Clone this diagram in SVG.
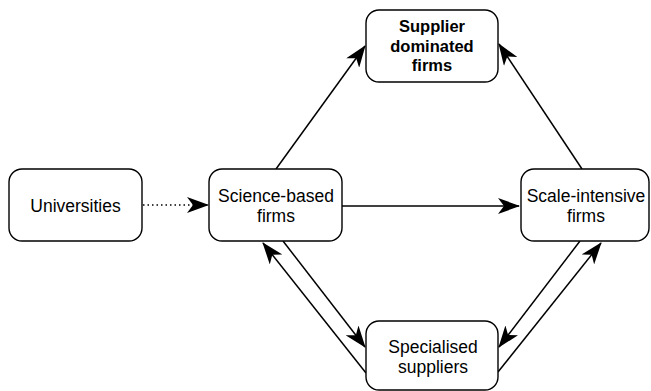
<svg xmlns="http://www.w3.org/2000/svg" width="651" height="391" viewBox="0 0 651 391">
<style>
.box{fill:#fff;stroke:#000;stroke-width:1.4}
.t{font-family:"Liberation Sans",Arial,sans-serif;font-size:17.5px;text-anchor:middle;fill:#000}
.b{font-weight:bold;font-size:16.5px}
.e{fill:none;stroke:#000;stroke-width:1.5}
.d{stroke-dasharray:1.5 3}
</style>
<defs>
<marker id="ah" markerUnits="userSpaceOnUse" viewBox="0 0 22 16" refX="21" refY="8" markerWidth="22" markerHeight="16" orient="auto">
<path d="M0,0 L22,8 L0,16 L6,8 Z" fill="#000"/>
</marker>
</defs>
<rect width="651" height="391" fill="#fff"/>
<g id="connectors">
<line class="e d" x1="143" y1="205" x2="208" y2="205" marker-end="url(#ah)"/>
<line class="e" x1="342" y1="206" x2="519" y2="206" marker-end="url(#ah)"/>
<line class="e" x1="276" y1="169" x2="365" y2="46" marker-end="url(#ah)"/>
<line class="e" x1="582" y1="169" x2="499" y2="44" marker-end="url(#ah)"/>
<line class="e" x1="283" y1="241" x2="365" y2="347" marker-end="url(#ah)"/>
<line class="e" x1="366" y1="373" x2="263" y2="243" marker-end="url(#ah)"/>
<line class="e" x1="580" y1="241" x2="499" y2="347" marker-end="url(#ah)"/>
<line class="e" x1="498" y1="372" x2="601" y2="243" marker-end="url(#ah)"/>
</g>
<g id="supplier">
<rect class="box" x="366" y="10" width="132" height="72" rx="13"/>
<text class="t b" x="432" y="32">Supplier</text>
<text class="t b" x="432" y="52">dominated</text>
<text class="t b" x="432" y="71">firms</text>
</g>
<g id="universities">
<rect class="box" x="9" y="169" width="133" height="72" rx="13"/>
<text class="t" x="75.5" y="212">Universities</text>
</g>
<g id="science">
<rect class="box" x="209" y="169" width="133" height="72" rx="13"/>
<text class="t" x="276" y="202">Science-based</text>
<text class="t" x="276" y="222">firms</text>
</g>
<g id="scale">
<rect class="box" x="521" y="169" width="128" height="72" rx="13"/>
<text class="t" x="586" y="202">Scale-intensive</text>
<text class="t" x="586" y="222">firms</text>
</g>
<g id="specialised">
<rect class="box" x="366" y="321" width="132" height="69" rx="13"/>
<text class="t" x="433" y="353">Specialised</text>
<text class="t" x="433" y="373">suppliers</text>
</g>
</svg>
